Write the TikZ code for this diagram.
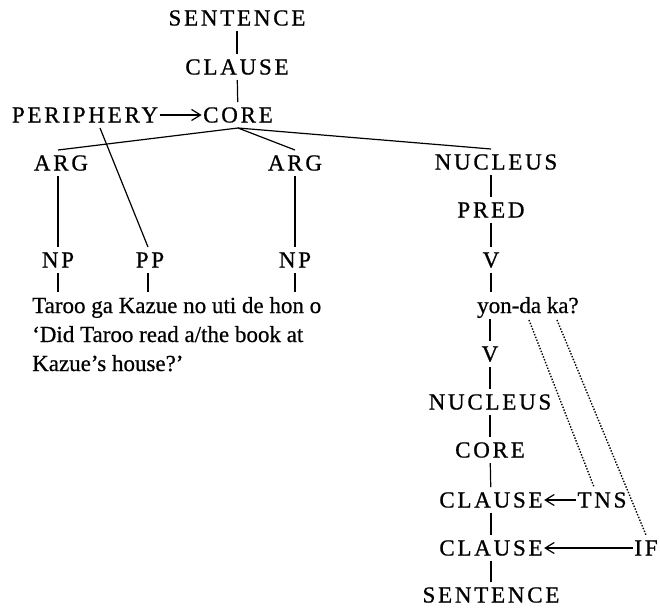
\documentclass[tikz,border=0pt]{standalone}
\usepackage{fontspec}
\setmainfont[FakeBold=0.6]{Liberation Serif}
\newfontfamily\capsfont[LetterSpace=12,FakeBold=0.8]{Liberation Serif}
\usetikzlibrary{arrows.meta}
\begin{document}
\begin{tikzpicture}[x=1pt,y=-1pt,
  cat/.style={font=\capsfont\fontsize{23}{23}\selectfont, inner sep=0pt,
    text height=15pt, text depth=0pt, outer xsep=1.5pt, outer ysep=5.5pt},
  body/.style={font=\fontsize{23}{23}\selectfont, inner sep=0pt,
    text height=15pt, text depth=0pt, outer ysep=6pt, anchor=base west},
  tree/.style={line width=1.2pt},
  link/.style={line width=1.2pt, -{Straight Barb[length=9pt,width=11pt,line width=1.2pt]}},
  assoc/.style={line width=1.4pt, dash pattern=on 1.4pt off 1.6pt}]
\useasboundingbox (0,0) rectangle (660,608);

% upper tree
\node[cat] (s1) at (237,18) {SENTENCE};
\node[cat] (c1) at (237,67) {CLAUSE};
\node[cat] (per) at (85,115) {PERIPHERY};
\node[cat] (core) at (238,115) {CORE};
\node[cat] (arg1) at (61,163) {ARG};
\node[cat] (arg2) at (295,163) {ARG};
\node[cat] (nuc1) at (496,162) {NUCLEUS};
\node[cat] (pred) at (491,210) {PRED};
\node[cat] (v1) at (491,260) {V};
\node[cat] (np1) at (58,260) {NP};
\node[cat] (pp) at (150,260) {PP};
\node[cat] (np2) at (295,260) {NP};

% example sentence and gloss
\node[body] (t1) at (32,313) {Taroo ga Kazue no uti de hon o};
\node[body] (t2) at (32,342) {`Did Taroo read a/the book at};
\node[body] (t3) at (32,371) {Kazue's house?'};
\node[body] (yon) at (477,313) {yon-da ka?};

% lower tree
\node[cat] (v2) at (490,354) {V};
\node[cat] (nuc2) at (490,402) {NUCLEUS};
\node[cat] (core2) at (490,450) {CORE};
\node[cat] (cl2) at (491,500) {CLAUSE};
\node[cat] (tns) at (602,500) {TNS};
\node[cat] (cl3) at (491,548) {CLAUSE};
\node[cat] (if) at (646,548) {IF};
\node[cat] (s2) at (491,595) {SENTENCE};

\coordinate (d1) at (529,320);
\coordinate (d2) at (557,320);

% branches
\draw[tree] (s1) -- (c1);
\draw[tree] (c1) -- (core);
\draw[tree] (core.south) -- (np1 |- arg1.north);
\draw[tree] (core.south) -- (arg2.north);
\draw[tree] (core.south) -- (pred |- nuc1.north);
\draw[tree] ([xshift=15pt]per.south) -- ([xshift=-2pt]pp.north);
\draw[tree] (np1 |- arg1.south) -- (np1.north);
\draw[tree] (arg2) -- (np2);
\draw[tree] (pred |- nuc1.south) -- (pred.north);
\draw[tree] (pred) -- (v1);
\draw[tree] (v1.south) -- (v1 |- yon.north);
\draw[tree] (np1.south) -- (np1 |- t1.north);
\draw[tree] ([xshift=-2pt]pp.south) -- ([xshift=-2pt]pp.south |- t1.north);
\draw[tree] (np2.south) -- (np2 |- t1.north);
\draw[tree] (v2 |- yon.south) -- (v2.north);
\draw[tree] (v2) -- (nuc2);
\draw[tree] (nuc2) -- (core2);
\draw[tree] (core2) -- (cl2);
\draw[tree] (cl2) -- (cl3);
\draw[tree] (cl3) -- (s2);

% operator links
\draw[link] (per.east) -- (core.west);
\draw[link] (tns.west) -- (cl2.east);
\draw[link] (if.west) -- (cl3.east);

% scope of the suffixes
\draw[assoc] (d1) -- ([xshift=-8pt]tns.north);
\draw[assoc] (d2) -- (if.north);
\end{tikzpicture}
\end{document}
